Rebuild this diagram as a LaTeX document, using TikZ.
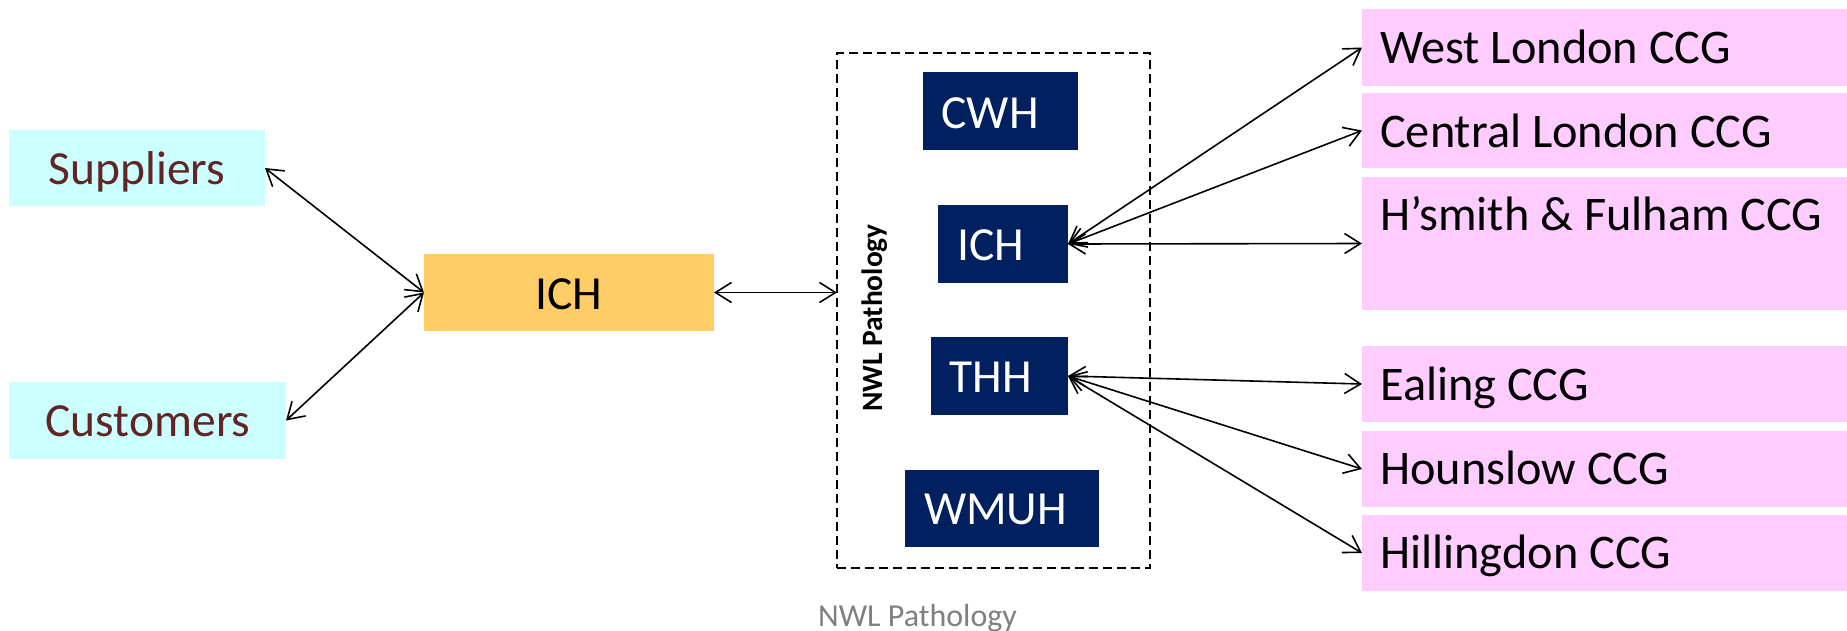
\documentclass[tikz,border=0pt]{standalone}
\usepackage{fontspec}
\setmainfont{Carlito}
\usetikzlibrary{arrows.meta}
\definecolor{cyanbox}{HTML}{CCFFFF}
\definecolor{browntxt}{HTML}{632523}
\definecolor{orangebox}{HTML}{FFCC66}
\definecolor{navybox}{HTML}{002060}
\definecolor{pinkbox}{HTML}{FFCCFF}
\definecolor{graytxt}{HTML}{808080}
\begin{document}
\begin{tikzpicture}[x=1pt,y=-1pt,
  box/.style={inner sep=0pt, outer sep=0pt, anchor=north west, draw=none},
  txt/.style={inner sep=0pt, anchor=base, font=\fontsize{47.5}{56}\selectfont},
  ltxt/.style={inner sep=0pt, anchor=base west, font=\fontsize{48.3}{56}\selectfont},
  con/.style={line width=1.6pt,
    {Straight Barb[length=16pt,width=20pt]}-{Straight Barb[length=16pt,width=20pt]}},
]
\useasboundingbox (0,0) rectangle (1847,630);
\fill[white] (0,0) rectangle (1847,630);

% left boxes
\node[box, fill=cyanbox, minimum width=256pt, minimum height=76pt] (sup) at (9,130) {};
\node[box, fill=cyanbox, minimum width=277pt, minimum height=77pt] (cus) at (9,382) {};
\node[box, fill=orangebox, minimum width=290pt, minimum height=77pt] (ich) at (424,254) {};
\node[txt, text=browntxt] (supt) at (137,184) {Suppliers};
\node[txt, text=browntxt] (cust) at (148,436) {Customers};
\node[txt] (icht) at (569,309) {ICH};

% NWL Pathology group
\node[box, draw=black, line width=1.3pt, dash pattern=on 9pt off 5pt,
      minimum width=313pt, minimum height=515pt] (pathbox) at (837,53) {};
\node[box, fill=navybox, minimum width=155pt, minimum height=78pt] (cwh) at (923,72) {};
\node[box, fill=navybox, minimum width=130pt, minimum height=78pt] (ichn) at (938,205) {};
\node[box, fill=navybox, minimum width=137pt, minimum height=78pt] (thh) at (931,337) {};
\node[box, fill=navybox, minimum width=194pt, minimum height=77pt] (wmuh) at (905,470) {};
\node[txt, text=white] (cwht) at (990,128) {CWH};
\node[txt, text=white] (ichnt) at (991,260) {ICH};
\node[txt, text=white] (thht) at (990.5,392) {THH};
\node[txt, text=white] (wmuht) at (995.5,524) {WMUH};
\node[inner sep=0pt, rotate=90, font=\bfseries\fontsize{29.5}{34}\selectfont] (plabel) at (875,318) {NWL Pathology};

% CCG boxes
\node[box, fill=pinkbox, minimum width=485pt, minimum height=77pt] (wl) at (1362,9) {};
\node[box, fill=pinkbox, minimum width=485pt, minimum height=75pt] (cl) at (1362,93) {};
\node[box, fill=pinkbox, minimum width=485pt, minimum height=133pt] (hf) at (1362,177) {};
\node[box, fill=pinkbox, minimum width=485pt, minimum height=76pt] (ea) at (1362,346) {};
\node[box, fill=pinkbox, minimum width=485pt, minimum height=76pt] (ho) at (1362,431) {};
\node[box, fill=pinkbox, minimum width=485pt, minimum height=76pt] (hi) at (1362,515) {};
\node[ltxt] (wlt) at (1380,63) {West London CCG};
\node[ltxt] (clt) at (1380,147) {Central London CCG};
\node[ltxt] (hft) at (1380,230) {H’smith \& Fulham CCG};
\node[ltxt] (eat) at (1380,400) {Ealing CCG};
\node[ltxt] (hot) at (1380,484) {Hounslow CCG};
\node[ltxt] (hit) at (1380,568) {Hillingdon CCG};

% caption
\node[inner sep=0pt, anchor=base, text=graytxt, font=\fontsize{32}{38}\selectfont] (cap) at (917.5,626) {NWL Pathology};

% connectors
\draw[con] (sup.east) -- (ich.west);
\draw[con] (cus.east) -- (ich.west);
\draw[con] (ich.east) -- (ich.east -| pathbox.west);
\draw[con] (ichn.east) -- (wl.west);
\draw[con] (ichn.east) -- (cl.west);
\draw[con] (ichn.east) -- (hf.west);
\draw[con] (thh.east) -- (ea.west);
\draw[con] (thh.east) -- (ho.west);
\draw[con] (thh.east) -- (hi.west);
\end{tikzpicture}
\end{document}
